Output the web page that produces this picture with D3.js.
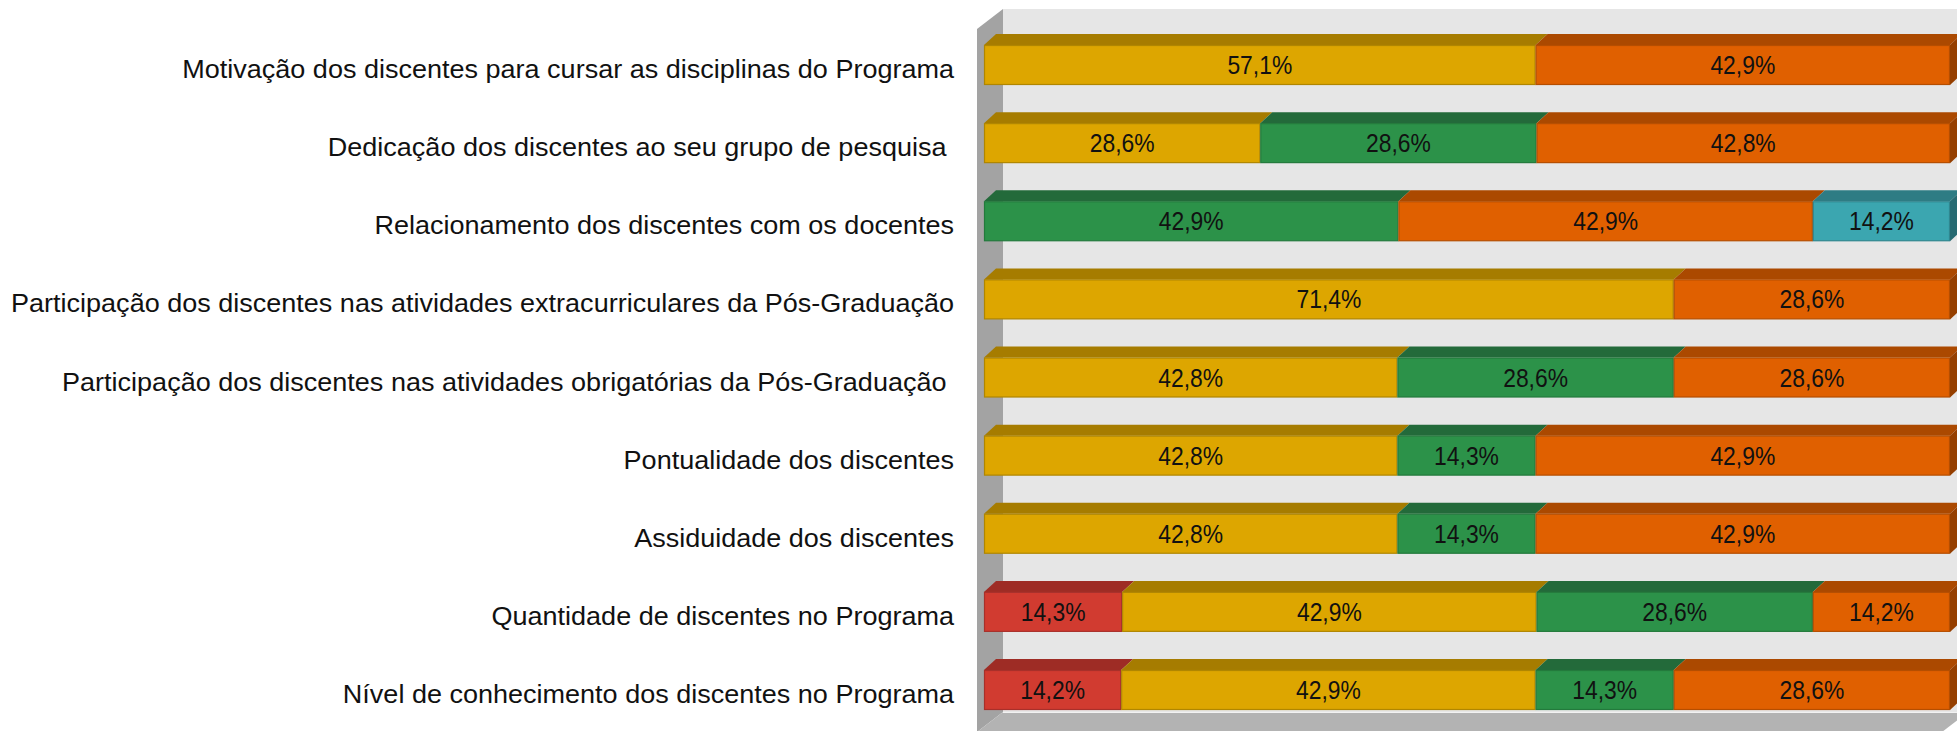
<!DOCTYPE html>
<html>
<head>
<meta charset="utf-8">
<script src="https://cdn.jsdelivr.net/npm/d3@7"></script>
<style>
  html, body { margin: 0; padding: 0; background: #ffffff; }
  svg { display: block; }
  text { font-family: "Liberation Sans", Arial, sans-serif; fill: #111111; }
</style>
</head>
<body>
<svg id="chart" width="1957" height="731"></svg>
<script>
// ---------- DATA ----------
const categories = [
  "Motivação dos discentes para cursar as disciplinas do Programa",
  "Dedicação dos discentes ao seu grupo de pesquisa ",
  "Relacionamento dos discentes com os docentes",
  "Participação dos discentes nas atividades extracurriculares da Pós-Graduação",
  "Participação dos discentes nas atividades obrigatórias da Pós-Graduação ",
  "Pontualidade dos discentes",
  "Assiduidade dos discentes",
  "Quantidade de discentes no Programa",
  "Nível de conhecimento dos discentes no Programa"
];
const seriesKeys = ["s1", "s2", "s3", "s4", "s5"];
const s1 = [0,    0,    0,    0,    0,    0,    0,    14.3, 14.2];
const s2 = [57.1, 28.6, 0,    71.4, 42.8, 42.8, 42.8, 42.9, 42.9];
const s3 = [0,    28.6, 42.9, 0,    28.6, 14.3, 14.3, 28.6, 14.3];
const s4 = [42.9, 42.8, 42.9, 28.6, 28.6, 42.9, 42.9, 14.2, 28.6];
const s5 = [0,    0,    14.2, 0,    0,    0,    0,    0,    0];
const seriesValues = [s1, s2, s3, s4, s5];

// ---------- STYLE ----------
const frontColors = ["#d13b30", "#dda600", "#2c9249", "#e06000", "#3ba6b0"];
const topColors   = ["#9e2c25", "#a67c00", "#236a3a", "#ab4900", "#2e7c84"];
const sideColors  = ["#8a2620", "#906c00", "#1d5a31", "#953f00", "#276a72"];
const edgeColors  = ["#a8302a", "#b08600", "#237a3c", "#b54e00", "#2f868f"];

const svg = d3.select("#chart");

// layout
const plotLeft = 984, plotRight = 1950;
const rowTop = 45, rowBottom = 710;
const barDx = 12, barDy = -11;          // bar depth
const wallDx = 26, wallDy = -20;        // wall depth
const wallFrontX = 977, wallTopY = 29, wallBottomY = 732;

const x = d3.scaleLinear().domain([0, 100]).range([plotLeft, plotRight]);
const y = d3.scaleBand().domain(categories).range([rowTop, rowBottom])
  .paddingInner(0.488).paddingOuter(0);

// ---------- WALLS ----------
const bx0 = wallFrontX + wallDx, by0 = wallTopY + wallDy, byb = wallBottomY + wallDy;
// back wall
svg.append("rect").attr("x", bx0).attr("y", by0).attr("width", 1990 - bx0)
  .attr("height", byb - by0).attr("fill", "#e6e6e6");
// side wall
svg.append("polygon")
  .attr("points", [[wallFrontX, wallTopY], [bx0, by0], [bx0, byb], [wallFrontX, wallBottomY]].join(" "))
  .attr("fill", "#a3a3a3");
// floor
const floorRight = 1968;
svg.append("polygon")
  .attr("points", [[wallFrontX, wallBottomY], [bx0, byb], [floorRight, byb],
                   [floorRight - wallDx, wallBottomY]].join(" "))
  .attr("fill", "#b3b3b3");
svg.append("line").attr("x1", bx0).attr("x2", floorRight).attr("y1", byb + 0.5).attr("y2", byb + 0.5)
  .attr("stroke", "#f2f2f2").attr("stroke-width", 1);

// ---------- STACK ----------
const rows = categories.map((c, i) => {
  const row = { category: c };
  seriesKeys.forEach((k, j) => row[k] = seriesValues[j][i]);
  return row;
});
const stacked = d3.stack().keys(seriesKeys)(rows);

const fmt = v => d3.format(".1f")(v).replace(".", ",") + "%";

categories.forEach((cat, i) => {
  const g = svg.append("g");
  const yt = y(cat), h = y.bandwidth();
  const segs = stacked.map((s, j) => ({ j, x0: s[i][0], x1: s[i][1], v: seriesValues[j][i] }))
    .filter(d => d.v > 0);
  const last = segs[segs.length - 1];
  segs.forEach(d => {
    const xa = x(d.x0), xb = x(d.x1);
    // top face
    g.append("polygon")
      .attr("points", [[xa, yt], [xa + barDx, yt + barDy], [xb + barDx, yt + barDy], [xb, yt]].join(" "))
      .attr("fill", topColors[d.j]);
    // front face
    g.append("rect").attr("x", xa + 0.5).attr("y", yt + 0.5)
      .attr("width", xb - xa - 1).attr("height", h - 1)
      .attr("fill", frontColors[d.j]).attr("stroke", edgeColors[d.j]).attr("stroke-width", 1.2);
  });
  // right face of last segment
  const xe = x(last.x1);
  g.append("polygon")
    .attr("points", [[xe, yt], [xe + barDx, yt + barDy], [xe + barDx, yt + h + barDy], [xe, yt + h]].join(" "))
    .attr("fill", sideColors[last.j]);
  // value labels
  segs.forEach(d => {
    const cx = (x(d.x0) + x(d.x1)) / 2;
    g.append("text")
      .attr("transform", `translate(${cx},${yt + h / 2 + 9}) scale(0.88,1)`)
      .attr("text-anchor", "middle")
      .attr("font-size", 26)
      .text(fmt(d.v));
  });
  // category label
  svg.append("text")
    .attr("transform", `translate(954,${yt + h / 2 + 13}) scale(1.02,1)`)
    .attr("text-anchor", "end")
    .attr("font-size", 26.5)
    .style("white-space", "pre")
    .text(cat);
});
</script>
</body>
</html>
